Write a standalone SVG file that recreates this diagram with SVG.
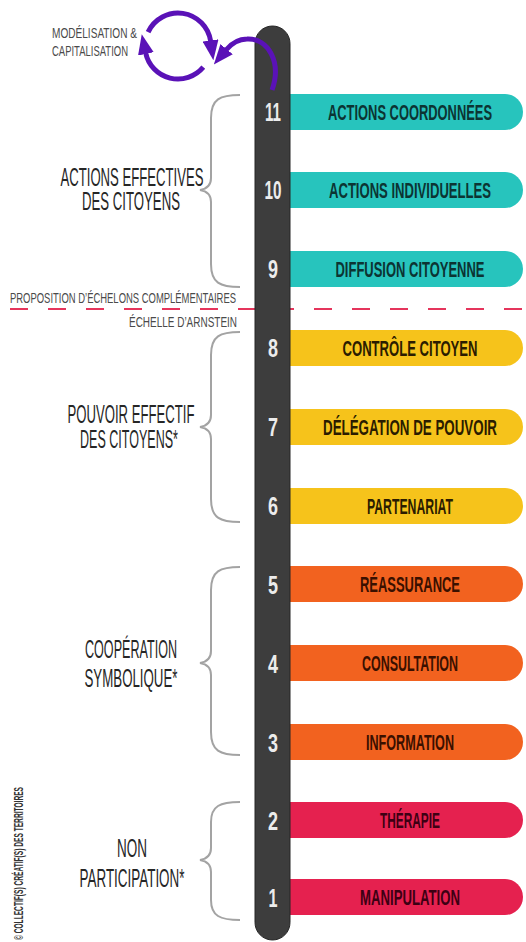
<svg xmlns="http://www.w3.org/2000/svg" width="526" height="942" viewBox="0 0 526 942">
<style>
.lbl{font-family:"Liberation Sans",Arial,sans-serif;font-weight:bold;font-size:22px;text-anchor:middle}
.num{font-family:"Liberation Sans",Arial,sans-serif;font-weight:bold;font-size:25px;text-anchor:middle;fill:#ececec}
.grp{font-family:"Liberation Sans",Arial,sans-serif;font-size:25px;text-anchor:middle;fill:#262626}
.small{font-family:"Liberation Sans",Arial,sans-serif;font-size:15px;fill:#4a4a4a}
.brace{fill:none;stroke:#a3a3a3;stroke-width:2}
.teal{fill:#27c4bd}.teal-t{fill:#0c3433}
.yel{fill:#f6c31b}.yel-t{fill:#2b1c00}
.ora{fill:#f2621f}.ora-t{fill:#3a1000}
.red{fill:#e5214f}.red-t{fill:#3d0013}
.purple{fill:none;stroke:#5a12b7;stroke-width:5}
</style>
<defs>
<marker id="ah" markerUnits="userSpaceOnUse" markerWidth="20" markerHeight="16" viewBox="0 0 20 16" refX="1" refY="8" orient="auto">
<path d="M0,0 L20,8 L0,16 z" fill="#5a12b7"/>
</marker>
</defs>
<rect width="526" height="942" fill="#ffffff"/>

<g id="separator">
<line x1="10" y1="309" x2="526" y2="309" stroke="#e5355c" stroke-width="2" stroke-dasharray="18 20"/>
<text class="small" x="10" y="303" font-size="14" textLength="226" lengthAdjust="spacingAndGlyphs">PROPOSITION D’ÉCHELONS COMPLÉMENTAIRES</text>
<text class="small" x="237" y="327" font-size="14" text-anchor="end" textLength="108" lengthAdjust="spacingAndGlyphs">ÉCHELLE D’ARNSTEIN</text>
</g>

<g id="group-actions">
<path class="brace" d="M240,95 C220,95 211,99 211,118 L211,178 C211,186 206,189 200,190 C206,191 211,194 211,202 L211,264 C211,283 220,287 240,287"/>
<text class="grp" x="132" y="186" textLength="143" lengthAdjust="spacingAndGlyphs">ACTIONS EFFECTIVES</text>
<text class="grp" x="131" y="210" textLength="98" lengthAdjust="spacingAndGlyphs">DES CITOYENS</text>
</g>
<g id="group-pouvoir">
<path class="brace" d="M240,332 C220,332 211,336 211,355 L211,415 C211,423 206,426 200,427 C206,428 211,431 211,439 L211,499 C211,518 220,522 240,522"/>
<text class="grp" x="131" y="423" textLength="127" lengthAdjust="spacingAndGlyphs">POUVOIR EFFECTIF</text>
<text class="grp" x="129" y="448" textLength="98" lengthAdjust="spacingAndGlyphs">DES CITOYENS*</text>
</g>
<g id="group-cooperation">
<path class="brace" d="M240,567 C220,567 211,571 211,590 L211,651 C211,659 206,662 200,663 C206,664 211,667 211,675 L211,732 C211,751 220,755 240,755"/>
<text class="grp" x="131" y="658" textLength="92" lengthAdjust="spacingAndGlyphs">COOPÉRATION</text>
<text class="grp" x="131" y="687" textLength="93" lengthAdjust="spacingAndGlyphs">SYMBOLIQUE*</text>
</g>
<g id="group-non">
<path class="brace" d="M240,802 C220,802 211,806 211,822 L211,848 C211,856 206,859 200,860 C206,861 211,864 211,872 L211,900 C211,916 220,920 240,920"/>
<text class="grp" x="132" y="857" textLength="30" lengthAdjust="spacingAndGlyphs">NON</text>
<text class="grp" x="132" y="887" textLength="105" lengthAdjust="spacingAndGlyphs">PARTICIPATION*</text>
</g>

<g id="rung-11"><path class="teal" d="M290,94 H505 A18,18 0 0 1 505,130 H290 Z"/><text class="lbl teal-t" x="410" y="120" textLength="164" lengthAdjust="spacingAndGlyphs">ACTIONS COORDONNÉES</text></g>
<g id="rung-10"><path class="teal" d="M290,172 H505 A18,18 0 0 1 505,208 H290 Z"/><text class="lbl teal-t" x="410" y="198" textLength="162" lengthAdjust="spacingAndGlyphs">ACTIONS INDIVIDUELLES</text></g>
<g id="rung-9"><path class="teal" d="M290,251 H505 A18,18 0 0 1 505,287 H290 Z"/><text class="lbl teal-t" x="410" y="277" textLength="149" lengthAdjust="spacingAndGlyphs">DIFFUSION CITOYENNE</text></g>
<g id="rung-8"><path class="yel" d="M290,330 H505 A18,18 0 0 1 505,366 H290 Z"/><text class="lbl yel-t" x="410" y="356" textLength="135" lengthAdjust="spacingAndGlyphs">CONTRÔLE CITOYEN</text></g>
<g id="rung-7"><path class="yel" d="M290,409 H505 A18,18 0 0 1 505,445 H290 Z"/><text class="lbl yel-t" x="410" y="435" textLength="174" lengthAdjust="spacingAndGlyphs">DÉLÉGATION DE POUVOIR</text></g>
<g id="rung-6"><path class="yel" d="M290,488 H505 A18,18 0 0 1 505,524 H290 Z"/><text class="lbl yel-t" x="410" y="514" textLength="86" lengthAdjust="spacingAndGlyphs">PARTENARIAT</text></g>
<g id="rung-5"><path class="ora" d="M290,566 H505 A18,18 0 0 1 505,602 H290 Z"/><text class="lbl ora-t" x="410" y="592" textLength="100" lengthAdjust="spacingAndGlyphs">RÉASSURANCE</text></g>
<g id="rung-4"><path class="ora" d="M290,645 H505 A18,18 0 0 1 505,681 H290 Z"/><text class="lbl ora-t" x="410" y="671" textLength="96" lengthAdjust="spacingAndGlyphs">CONSULTATION</text></g>
<g id="rung-3"><path class="ora" d="M290,724 H505 A18,18 0 0 1 505,760 H290 Z"/><text class="lbl ora-t" x="410" y="750" textLength="88" lengthAdjust="spacingAndGlyphs">INFORMATION</text></g>
<g id="rung-2"><path class="red" d="M290,802 H505 A18,18 0 0 1 505,838 H290 Z"/><text class="lbl red-t" x="410" y="828" textLength="60" lengthAdjust="spacingAndGlyphs">THÉRAPIE</text></g>
<g id="rung-1"><path class="red" d="M290,879 H505 A18,18 0 0 1 505,915 H290 Z"/><text class="lbl red-t" x="410" y="905" textLength="100" lengthAdjust="spacingAndGlyphs">MANIPULATION</text></g>

<g id="pole">
<rect x="255" y="26" width="35" height="914" rx="17.5" fill="#3d3d3d" stroke="#262626" stroke-width="1"/>
<text class="num" x="273" y="121" textLength="16" lengthAdjust="spacingAndGlyphs">11</text>
<text class="num" x="273" y="199" textLength="17" lengthAdjust="spacingAndGlyphs">10</text>
<text class="num" x="273" y="278" textLength="10" lengthAdjust="spacingAndGlyphs">9</text>
<text class="num" x="273" y="357" textLength="10" lengthAdjust="spacingAndGlyphs">8</text>
<text class="num" x="273" y="436" textLength="10" lengthAdjust="spacingAndGlyphs">7</text>
<text class="num" x="273" y="515" textLength="10" lengthAdjust="spacingAndGlyphs">6</text>
<text class="num" x="273" y="594" textLength="10" lengthAdjust="spacingAndGlyphs">5</text>
<text class="num" x="273" y="673" textLength="10" lengthAdjust="spacingAndGlyphs">4</text>
<text class="num" x="273" y="752" textLength="10" lengthAdjust="spacingAndGlyphs">3</text>
<text class="num" x="273" y="830" textLength="10" lengthAdjust="spacingAndGlyphs">2</text>
<text class="num" x="273" y="907" textLength="9" lengthAdjust="spacingAndGlyphs">1</text>
</g>

<g id="modelisation">
<text class="small" x="52" y="38" textLength="85" lengthAdjust="spacingAndGlyphs">MODÉLISATION &amp;</text>
<text class="small" x="52" y="56" textLength="76" lengthAdjust="spacingAndGlyphs">CAPITALISATION</text>
</g>

<g id="connectors">
<path class="purple" d="M148.1,32.1 A33,33 0 0 1 210.7,41.4" marker-end="url(#ah)"/>
<path class="purple" d="M203.3,67.2 A33,33 0 0 1 145.7,52.9" marker-end="url(#ah)"/>
<path class="purple" d="M272,90 C282,62 268,38 247,39 C238,39 231,44 226,50" marker-end="url(#ah)"/>
</g>

<text x="23" y="940" transform="rotate(-90 23 940)" font-family="'Liberation Sans',Arial,sans-serif" font-size="13" font-weight="bold" fill="#333" textLength="153" lengthAdjust="spacingAndGlyphs">© COLLECTIF(S) CRÉATIF(S) DES TERRITOIRES</text>
</svg>
